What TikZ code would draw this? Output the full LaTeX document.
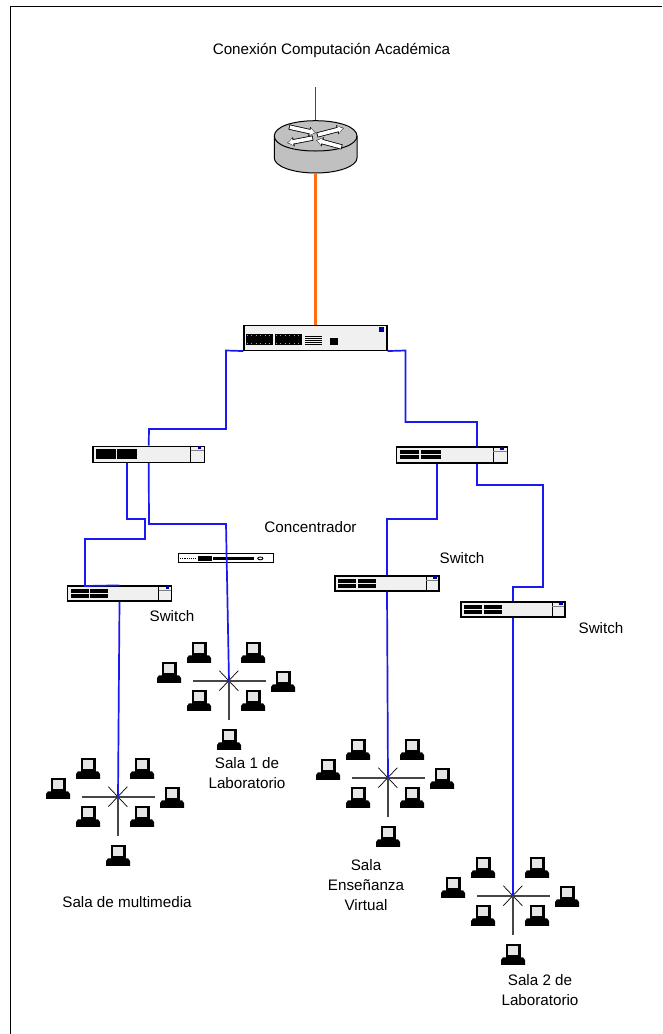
\documentclass[tikz,border=0pt]{standalone}
\usepackage{fontspec}
\usetikzlibrary{arrows.meta}
\setmainfont{Liberation Sans}
\definecolor{linkblue}{RGB}{25,25,240}
\definecolor{panel}{RGB}{240,240,240}
\definecolor{routergray}{RGB}{192,192,192}
\definecolor{fiber}{RGB}{255,110,20}
\definecolor{hubline}{RGB}{70,70,70}
\tikzset{
  x=1pt,y=-1pt,
  link/.style={draw=linkblue,line width=1.7pt,line join=miter},
  lbl/.style={font=\fontsize{15.2}{20}\selectfont,align=center,inner sep=0pt},
  box/.style={draw=black,line width=1.3pt,fill=panel,rectangle,inner sep=0pt},
  pc/.pic={
    \fill[black] (-7.5,-10) rectangle (7.5,3.5);
    \fill[gray!20] (-5,-7.8) rectangle (5,1);
    \fill[black] (-12,10.9) -- (-12,6) -- (-10,3.3) -- (10,3.3) -- (12,6) -- (12,10.9) -- cycle;
  },
  ministar/.pic={
    \draw[hubline,line width=1.1pt] (-36,0) -- (37,0);
    \draw[black,line width=.7pt] (-9.7,-10.3) -- (9.3,9.7) (-9.7,9.7) -- (9.3,-10.3);
    \draw[hubline,line width=1.1pt] (0,0) -- (0,39);
    \path (-30,-29) pic {pc} (24,-29) pic {pc} (-60,-9) pic {pc} (54,0) pic {pc}
          (-30,19) pic {pc} (24,19) pic {pc} (0,58) pic {pc};
  },
}
\newcommand{\swdetail}[3]{% name, divider offset from east, module width
  \fill[black] ([xshift=3.7,yshift=-3.3]#1.north west) rectangle ++(#3,4.7);
  \fill[black] ([xshift=3.7,yshift=-8.8]#1.north west) rectangle ++(#3,4.3);
  \fill[black] ([xshift=#3+5.5,yshift=-3.3]#1.north west) rectangle ++(#3,4.7);
  \fill[black] ([xshift=#3+5.5,yshift=-8.8]#1.north west) rectangle ++(#3,4.3);
  \draw[black,line width=.9pt] ([xshift=-#2]#1.north east) -- ([xshift=-#2]#1.south east);
  \draw[gray,line width=.6pt] ([xshift=-#2,yshift=-4.5]#1.north east) -- ([xshift=-1.3,yshift=-4.5]#1.north east);
  \fill[blue!60!black] ([xshift=-#2+7,yshift=-.8]#1.north east) rectangle ++(3.5,3);
}
\begin{document}
\begin{tikzpicture}
\useasboundingbox (0,0) rectangle (662,1034);
\fill[white] (0,0) rectangle (662,1034);
\draw[black,line width=1pt] (10.5,1034) -- (10.5,6) -- (662,6);

% labels
\node[lbl] (title) at (331.5,50) {Conexión Computación Académica};
\node[lbl] (lconc) at (310.5,527) {Concentrador};
\node[lbl] (lsw1) at (172,616) {Switch};
\node[lbl] (lsw2) at (462,558) {Switch};
\node[lbl] (lsw3) at (601,628) {Switch};
\node[lbl] (lsala1) at (247,773) {Sala 1 de\\Laboratorio};
\node[lbl] (lmulti) at (127,902) {Sala de multimedia};
\node[lbl] (lvirtual) at (366,885) {Sala\\Enseñanza\\Virtual};
\node[lbl] (lsala2) at (540,990) {Sala 2 de\\Laboratorio};

% router
\coordinate (feed) at (315,87);
\coordinate (routertop) at (315,120.5);
\coordinate (routerbot) at (315,173);
\draw[hubline,line width=.9pt] (feed) -- (routertop);
\path[fill=routergray,draw=black,line width=1pt] (274.3,136) -- (274.3,158)
  .. controls (274.3,166) and (292,173) .. (315.5,173) .. controls (339,173) and (357,166) .. (357,158)
  -- (357,136) .. controls (357,127) and (339,120.7) .. (315.5,120.7) .. controls (292,120.7) and (274.3,127) .. (274.3,136) -- cycle;
\draw[black,line width=1pt] (274.3,136) .. controls (274.3,145) and (292,151) .. (315.5,151) .. controls (339,151) and (357,145) .. (357,136);
\foreach \a/\b/\c/\d in {289/127/316/133, 317/135/344/128, 313/138/287/143, 342/147/316/140}{
  \draw[black,line width=5.2pt,-{Latex[length=7pt,width=10.5pt]}] (\a,\b) -- (\c,\d);
  \draw[white,line width=3.6pt,shorten >=1pt,shorten <=.8pt,-{Latex[length=5pt,width=8pt]}] (\a,\b) -- (\c,\d);
}

% core switch
\node[box,minimum width=143,minimum height=25,line width=1.1pt] (core) at (315.5,338) {};
\foreach \xa in {246,275}{
  \fill[black] (\xa,334) rectangle ++(27,11);
  \draw[gray!70,line width=.6pt,dash pattern=on .8pt off 3.6pt] (\xa+1,335.5) -- ++(25,0) (\xa+1,343.5) -- ++(25,0);
}
\foreach \yy in {336,338,340,342,344}{\draw[black,line width=.7pt] (305,\yy) -- (322,\yy);}
\fill[black] (330,338) rectangle (337.5,345);
\fill[blue!60!black] (378.5,326.7) rectangle (384,332);

% access switches
\node[box,minimum width=111.5,minimum height=16] (sw1) at (148.7,454.2) {};
\swdetail{sw1}{14.5}{19.5}
\node[box,minimum width=110.5,minimum height=16] (sw2) at (452,455) {};
\swdetail{sw2}{14.5}{19.5}
\node[box,minimum width=104,minimum height=15] (sw3) at (119.5,593.5) {};
\swdetail{sw3}{13.5}{18}
\node[box,minimum width=104,minimum height=15] (sw4) at (387,583.5) {};
\swdetail{sw4}{13.5}{18}
\node[box,minimum width=104,minimum height=15] (sw5) at (513,609.5) {};
\swdetail{sw5}{13.5}{18}

% concentrador
\node[draw=black,line width=.9pt,fill=white,minimum width=95,minimum height=9.4,inner sep=0pt] (hub) at (225.8,558) {};
\fill[black] (197.7,556) rectangle (211.7,560.7);
\fill[black] (212.7,556.7) rectangle (254.3,560);
\draw[black,line width=.9pt,dash pattern=on 1.2pt off 1pt] (180,558.4) -- (196,558.4);
\draw[black,line width=.9pt] (260.3,558.4) circle (2.6 and 1.4);

% room hubs
\coordinate (s1) at (229,681);
\coordinate (s2) at (118,797);
\coordinate (s3) at (388,778);
\coordinate (s4) at (513,896);
\path (s1) pic {ministar} (s2) pic {ministar} (s3) pic {ministar} (s4) pic {ministar};

% connectors
\draw[fiber,line width=3pt] (routerbot) -- (core.north -| routerbot);
\draw[link] (core.south west) -- (226,350.5) -- (226,429) -- (149,429) -- (sw1.north);
\draw[link] (core.south east) -- (405.5,350.5) -- (405.5,422) -- (477,422) -- ([xshift=25]sw2.north);
\draw[link] ([xshift=-21.7]sw1.south) -- (127,519) -- (145,519) -- (145,539) -- (85,539) -- (85,586) -- (sw3.north);
\draw[link] (sw1.south) -- (149,524) -- (226,524) -- (s1);
\draw[link] (sw3.south) -- (s2);
\draw[link] ([xshift=-15]sw2.south) -- (437,519) -- (387,519) -- (sw4.north);
\draw[link] (sw4.south) -- (s3);
\draw[link] ([xshift=25]sw2.south) -- (477,485) -- (543,485) -- (543,587) -- (513,587) -- (sw5.north);
\draw[link] (sw5.south) -- (s4);
\end{tikzpicture}
\end{document}
